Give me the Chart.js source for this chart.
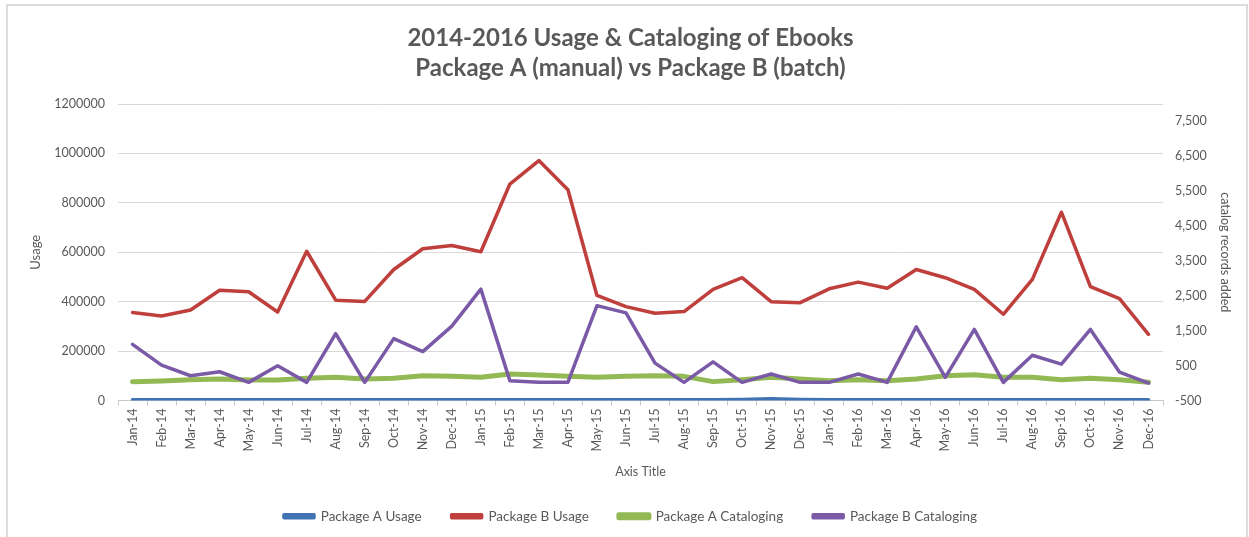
<!DOCTYPE html>
<html>
<head>
<meta charset="utf-8">
<script src="https://cdn.jsdelivr.net/npm/chart.js@4.4.1/dist/chart.umd.min.js"></script>
<style>
  html, body { margin: 0; padding: 0; background: #fff; }
  #wrap { position: relative; width: 1249px; height: 537px; overflow: hidden; }
  #frame { position: absolute; left: 6px; top: 4px; width: 1238px; height: 540px;
           border: 2px solid #dcdcdc; border-bottom: none; }
  canvas { position: absolute; left: 0; top: 0; }
</style>
</head>
<body>
<div id="wrap">
  <div id="frame"></div>
  <canvas id="chart" width="1249" height="537"></canvas>
</div>
<script>
// months on the x axis
const months = [
  "Jan-14", "Feb-14", "Mar-14", "Apr-14", "May-14", "Jun-14", "Jul-14", "Aug-14", "Sep-14", "Oct-14", "Nov-14", "Dec-14",
  "Jan-15", "Feb-15", "Mar-15", "Apr-15", "May-15", "Jun-15", "Jul-15", "Aug-15", "Sep-15", "Oct-15", "Nov-15", "Dec-15",
  "Jan-16", "Feb-16", "Mar-16", "Apr-16", "May-16", "Jun-16", "Jul-16", "Aug-16", "Sep-16", "Oct-16", "Nov-16", "Dec-16"
];

// usage (left axis)
const pkgAUsage = [
  3000, 3000, 3000, 3000, 3000, 3000, 3000, 3000, 3000, 3000, 3000, 3000,
  3000, 3000, 3000, 3000, 3000, 3000, 3000, 3000, 3000, 4000, 7000, 4000,
  3000, 3000, 3000, 3000, 3000, 3000, 3000, 3000, 3000, 3000, 3000, 3000
];
const pkgBUsage = [
  356000, 342000, 366000, 446000, 440000, 358000, 604000, 406000, 401000, 530000, 614000, 627000,
  602000, 876000, 971000, 853000, 425000, 380000, 353000, 360000, 450000, 497000, 400000, 396000,
  452000, 479000, 454000, 530000, 497000, 450000, 349000, 490000, 762000, 461000, 412000, 268000
];

// catalog records added (right axis)
const pkgACataloging = [
  41, 60, 97, 116, 88, 88, 135, 164, 116, 135, 211, 192,
  164, 258, 230, 192, 164, 192, 211, 192, 41, 97, 164, 116,
  69, 97, 69, 116, 211, 239, 164, 164, 97, 135, 97, 22
];
const pkgBCataloging = [
  1110, 514, 210, 324, 20, 494, 20, 1415, 20, 1273, 903, 1631,
  2693, 68, 20, 20, 2219, 2011, 571, 20, 608, 20, 259, 20,
  20, 259, 20, 1613, 165, 1537, 20, 798, 543, 1537, 315, 0
];

// tick labels
const usageTicks = [0, 200000, 400000, 600000, 800000, 1000000, 1200000];
const catalogTicks = [-500, 500, 1500, 2500, 3500, 4500, 5500, 6500, 7500];

const FONT = "Lato, 'Open Sans', sans-serif";
const GREY = "#595959";

const ctx = document.getElementById("chart").getContext("2d");

new Chart(ctx, {
  type: "line",
  data: {
    labels: months,
    datasets: [
      { label: "Package A Usage", data: pkgAUsage, yAxisID: "y",
        borderColor: "#3f73b4", backgroundColor: "#3f73b4", borderWidth: 3.5, order: 4 },
      { label: "Package B Usage", data: pkgBUsage, yAxisID: "y",
        borderColor: "#be3f3c", backgroundColor: "#be3f3c", borderWidth: 3.5, order: 3 },
      { label: "Package A Cataloging", data: pkgACataloging, yAxisID: "y2",
        borderColor: "#93b955", backgroundColor: "#93b955", borderWidth: 5, order: 2 },
      { label: "Package B Cataloging", data: pkgBCataloging, yAxisID: "y2",
        borderColor: "#7a5aa6", backgroundColor: "#7a5aa6", borderWidth: 3.5, order: 1 },
    ],
  },
  options: {
    responsive: false,
    animation: false,
    devicePixelRatio: 1,
    layout: { padding: { left: 22, right: 10, top: 0, bottom: 4 } },
    elements: {
      point: { radius: 0, hoverRadius: 0 },
      line: { tension: 0, borderCapStyle: "round", borderJoinStyle: "round" },
    },
    plugins: {
      tooltip: { enabled: false },
      title: {
        display: true,
        text: ["2014-2016 Usage & Cataloging of Ebooks", "Package A (manual) vs Package B (batch)"],
        color: GREY,
        font: { family: FONT, size: 24, weight: "bold", lineHeight: 1.25 },
        padding: { top: 23, bottom: 21 },
      },
      legend: {
        position: "bottom",
        labels: {
          color: GREY,
          font: { family: FONT, size: 13.5 },
          boxWidth: 30,
          boxHeight: 3,
          padding: 30,
          sort: (a, b) => a.datasetIndex - b.datasetIndex,
        },
      },
    },
    scales: {
      x: {
        offset: true,
        afterFit: (s) => { s.height = 79; },
        grid: { display: true, drawOnChartArea: false, offset: true, tickLength: 5, color: "#c8c8c8" },
        border: { display: true, color: "#c8c8c8" },
        ticks: { color: GREY, font: { family: FONT, size: 12.5 }, minRotation: 90, maxRotation: 90, autoSkip: false, padding: 3 },
        title: { display: true, text: "Axis Title", color: GREY, font: { family: FONT, size: 12.5 }, padding: { top: 4, bottom: 0 } },
      },
      y: {
        position: "left",
        min: 0,
        max: 1200000,
        afterFit: (s) => { s.width = 96; },
        afterBuildTicks: (s) => { s.ticks = usageTicks.map((v) => ({ value: v })); },
        grid: { color: "#d9d9d9", drawTicks: false },
        border: { display: false },
        ticks: { color: GREY, font: { family: FONT, size: 12.5 }, padding: 13, callback: (v) => String(v) },
        title: { display: true, text: "Usage", color: GREY, font: { family: FONT, size: 13 }, padding: { top: 6, bottom: 0 } },
      },
      y2: {
        position: "right",
        min: -500,
        max: 8000,
        afterFit: (s) => { s.width = 76; },
        afterBuildTicks: (s) => { s.ticks = catalogTicks.map((v) => ({ value: v })); },
        grid: { display: false, drawTicks: false },
        border: { display: false },
        ticks: { color: GREY, font: { family: FONT, size: 12.5 }, padding: 12,
                 callback: (v) => v.toLocaleString("en-US") },
        title: { display: true, text: "catalog records added", color: GREY, font: { family: FONT, size: 12.5 }, padding: { top: 6, bottom: 0 } },
      },
    },
  },
});
</script>
</body>
</html>
